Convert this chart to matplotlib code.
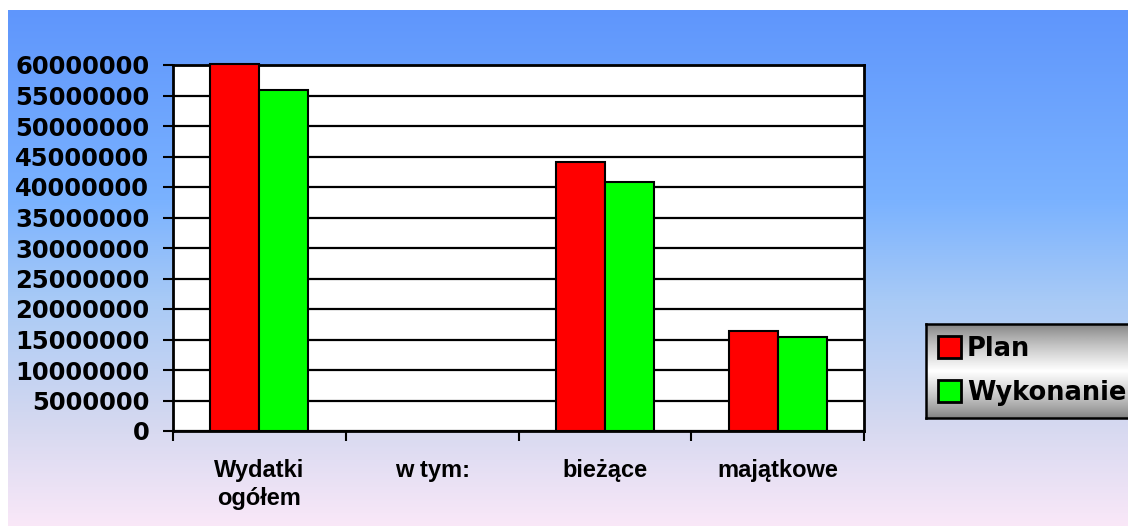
import numpy as np
import matplotlib
matplotlib.use('Agg')
import matplotlib.pyplot as plt
from matplotlib.patches import Patch

# dane
kategorie = ['Wydatki\nogółem', 'w tym:', 'bieżące', 'majątkowe']
plan = [60200000, np.nan, 44100000, 16400000]
wykonanie = [55900000, np.nan, 40800000, 15400000]
y_ticks = list(range(0, 60000001, 5000000))

RED = '#FF0000'
GREEN = '#00FF00'

W, H = 1128, 526
fig = plt.figure(figsize=(W / 100, H / 100), dpi=100)
fig.patch.set_facecolor('white')

# tło - gradient pionowy niebieski -> różowawy (od y=10 px, od x=8 px)
bg = fig.add_axes([8 / W, 0, 1 - 8 / W, 1 - 10 / H], zorder=-10)
rows = np.arange(10, H)
stops_y = [10, 200, 300, 420, 526]
stops_c = np.array([[95, 150, 252], [122, 178, 255], [168, 202, 246],
                    [212, 216, 240], [250, 232, 248]]) / 255
grad = np.stack([np.interp(rows, stops_y, stops_c[:, k]) for k in range(3)], axis=1)
bg.imshow(grad[:, None, :], aspect='auto', extent=[0, 1, 0, 1])
bg.axis('off')

# wykres
ax = fig.add_axes([173 / W, 1 - 431 / H, (864 - 173) / W, (431 - 65) / H])
ax.set_facecolor('white')
x = np.arange(len(kategorie))
w = 0.284
ax.bar(x - w / 2, plan, w, color=RED, edgecolor='black', linewidth=1.5,
       zorder=3, clip_on=False)
ax.bar(x + w / 2, wykonanie, w, color=GREEN, edgecolor='black', linewidth=1.5,
       zorder=3, clip_on=False)

ax.set_xlim(-0.5, len(kategorie) - 0.5)
ax.set_ylim(0, 60000000)
ax.set_yticks(y_ticks)
ax.set_yticklabels([str(v) for v in y_ticks], fontfamily='DejaVu Sans',
                   fontweight='bold', fontsize=17.5)
ax.yaxis.grid(True, color='black', linewidth=1.6)
ax.set_axisbelow(True)

ax.set_xticks(np.arange(-0.5, len(kategorie)))
ax.set_xticklabels([])
ax.set_xticks(x, minor=True)
ax.set_xticklabels(kategorie, minor=True, fontfamily='Liberation Sans',
                   fontweight='bold', fontsize=17, linespacing=1.3, va='top')
ax.tick_params(axis='x', which='minor', length=0, pad=20)
ax.tick_params(axis='both', which='major', length=7, width=1.5, direction='out')
ax.tick_params(axis='y', pad=10)
for s in ax.spines.values():
    s.set_linewidth(2)
    s.set_color('black')

# legenda z szarym gradientem
lx0, ly0, ly1 = 926, 324, 418
lax = fig.add_axes([lx0 / W, 1 - ly1 / H, (1160 - lx0) / W, (ly1 - ly0) / H])
tl = np.linspace(0, 1, 256)
g = 0.5 + 0.5 * np.clip(1 - np.abs(tl - 0.5) * 2, 0, 1) ** 0.8
lax.imshow(np.repeat(g[:, None], 2, axis=1), cmap='gray', vmin=0, vmax=1,
           aspect='auto', extent=[0, 1, 0, 1])
lax.set_xticks([])
lax.set_yticks([])
for s in lax.spines.values():
    s.set_linewidth(1.8)
    s.set_color('black')

handles = [Patch(facecolor=RED, edgecolor='black', linewidth=2),
           Patch(facecolor=GREEN, edgecolor='black', linewidth=2)]
lax.legend(handles, ['Plan', 'Wykonanie'], loc='center left',
           bbox_to_anchor=(0.0, 0.5), frameon=False,
           prop={'family': 'DejaVu Sans', 'weight': 'bold', 'size': 18.5},
           handlelength=0.9, handleheight=0.9, handletextpad=0.25,
           labelspacing=0.7, borderpad=0.3, borderaxespad=0.15)

fig.savefig('out.png', dpi=100)
